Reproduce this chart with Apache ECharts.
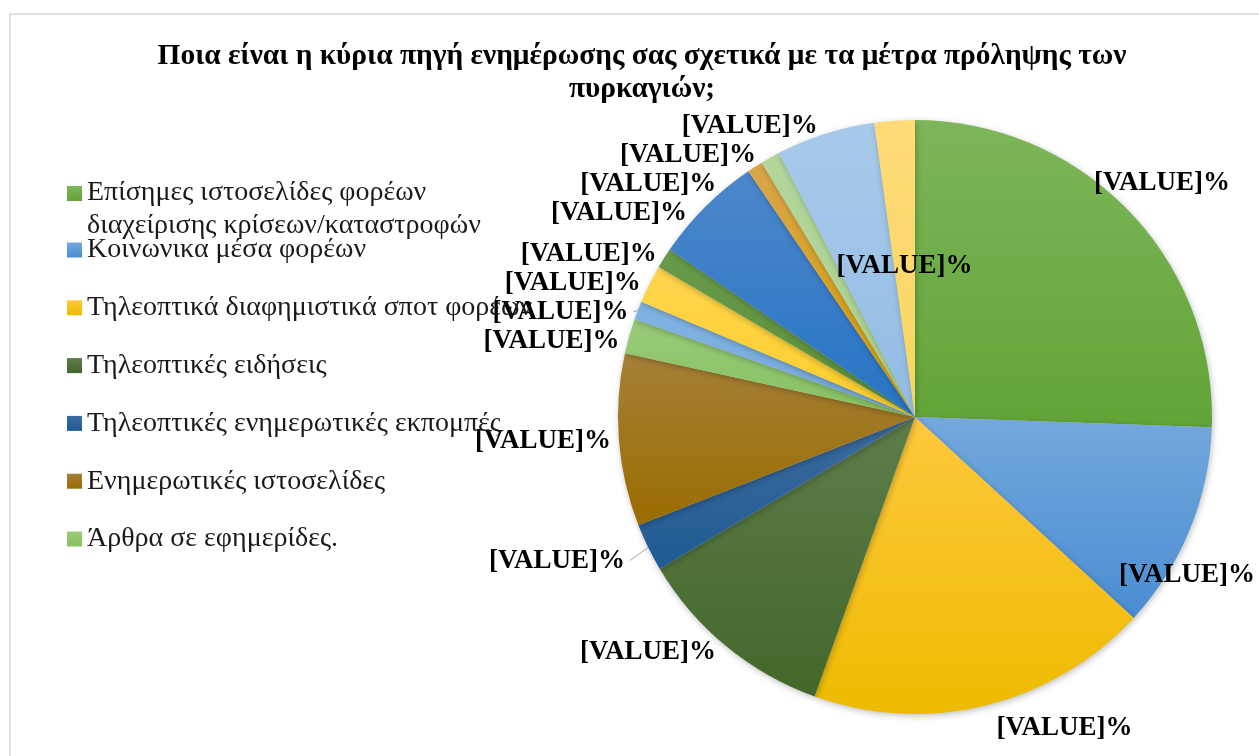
<!DOCTYPE html>
<html>
<head>
<meta charset="utf-8">
<script src="https://cdn.jsdelivr.net/npm/echarts@6/dist/echarts.min.js"></script>
<style>
html,body{margin:0;padding:0;background:#fff;}
#chart{width:1259px;height:756px;}
</style>
</head>
<body>
<div id="chart"></div>
<script>
const titleText = 'Ποια είναι η κύρια πηγή ενημέρωσης σας σχετικά με τα μέτρα πρόληψης των\nπυρκαγιών;';
const categories = [
  'Επίσημες ιστοσελίδες φορέων διαχείρισης κρίσεων/καταστροφών',
  'Κοινωνικα μέσα φορέων',
  'Τηλεοπτικά διαφημιστικά σποτ φορέων',
  'Τηλεοπτικές ειδήσεις',
  'Τηλεοπτικές ενημερωτικές εκπομπές',
  'Ενημερωτικές ιστοσελίδες',
  'Άρθρα σε εφημερίδες.',
  'Κατηγορία 8',
  'Κατηγορία 9',
  'Κατηγορία 10',
  'Κατηγορία 11',
  'Κατηγορία 12',
  'Κατηγορία 13',
  'Κατηγορία 14',
  'Κατηγορία 15'
];
const values = [25.6, 11.3, 18.7, 11.0, 2.6, 9.4, 1.9, 1.0, 2.1, 1.1, 6.0, 0.85, 1.05, 5.4, 2.2];
const labelText = '[VALUE]%';
const colorTop = ['#7DB65A','#74A8DD','#FFC83D','#5E7D4A','#3C6C9E','#A58038','#98CB79','#82B3E2','#FFD54E','#689A4B','#4C87CB','#D9A54A','#B3D69B','#A8CAEA','#FFDC78'];
const colorBottom = ['#62A437','#4A8DD2','#EDBB00','#42672A','#1F5A93','#9A6C00','#86C162','#74A9DE','#FCCD2A','#5B9038','#2674C4','#D7A000','#A9D18E','#92BCE4','#F7D560'];
const leaderIdx = [4, 7];
const insideIdx = [14];

function grad(i){
  return new echarts.graphic.LinearGradient(0,0,0,1,[{offset:0,color:colorTop[i]},{offset:1,color:colorBottom[i]}]);
}
// per-slice label placement tweaks (Excel "best fit" look)
const labelTweaks = {
  0: {label:{alignTo:'edge', edgeDistance:29}, lineLen:40},
  1: {label:{alignTo:'edge', edgeDistance:4}, lineLen:120},
  2: {lineLen:23},
  4: {lineLen:30}
};
const legendFont = 'Liberation Serif';
const chart = echarts.init(document.getElementById('chart'), null, {renderer:'canvas'});
const firstParts = ['Επίσημες ιστοσελίδες φορέων', 'διαχείρισης κρίσεων/καταστροφών'];
chart.setOption({
  backgroundColor:'#fff',
  animation:false,
  title:{
    text:titleText,
    left:637, top:35, textAlign:'center',
    textStyle:{fontFamily:'Liberation Serif', fontWeight:'bold', fontSize:29.4, color:'#000', lineHeight:33}
  },
  graphic:[{
    type:'rect', shape:{x:10,y:14,width:1400,height:900},
    style:{fill:null, stroke:'#d9d9d9', lineWidth:1.5}, silent:true
  }],
  legend:[{
    orient:'vertical', left:67, top:179, padding:0,
    data:[categories[0]],
    icon:'rect', itemWidth:15, itemHeight:15, itemGap:0,
    formatter:function(){ return '{a|'+firstParts[0]+'}\n{b|'+firstParts[1]+'}'; },
    textStyle:{fontFamily:legendFont, fontSize:28, color:'#1a1a1a',
      rich:{a:{fontFamily:legendFont,fontSize:28,color:'#1a1a1a',lineHeight:33},
            b:{fontFamily:legendFont,fontSize:28,color:'#1a1a1a',lineHeight:1,height:33,verticalAlign:'top'}}}
  },{
    orient:'vertical', left:67, top:236, padding:0,
    data:categories.slice(1,7),
    icon:'rect', itemWidth:15, itemHeight:15, itemGap:29.8,
    textStyle:{fontFamily:legendFont, fontSize:28, color:'#1a1a1a'}
  }],
  series:[{
    type:'pie',
    center:[915,417],
    radius:297,
    startAngle:90,
    clockwise:true,
    avoidLabelOverlap:true,
    data:values.map(function(v,i){
      const d = {name:categories[i], value:v, itemStyle:{color:grad(i)}};
      const t = labelTweaks[i];
      if (t) {
        if (t.label) d.label = Object.assign({}, t.label);
        d.labelLine = {length:t.lineLen};
      }
      if (leaderIdx.indexOf(i) >= 0) d.labelLine = Object.assign(d.labelLine || {}, {show:true, lineStyle:{color:'#a6a6a6', width:1}});
      if (insideIdx.indexOf(i) >= 0) d.label = {position:'inside'};
      return d;
    }),
    itemStyle:{borderWidth:0, shadowBlur:6, shadowColor:'rgba(0,0,0,0.25)', shadowOffsetX:1, shadowOffsetY:2},
    label:{
      show:true, position:'outside', formatter:labelText, overflow:'none',
      fontFamily:'Liberation Serif', fontWeight:'bold', fontSize:27, color:'#000'
    },
    labelLine:{show:false, length:8, length2:0},
    emphasis:{disabled:true}
  }]
});
</script>
</body>
</html>
